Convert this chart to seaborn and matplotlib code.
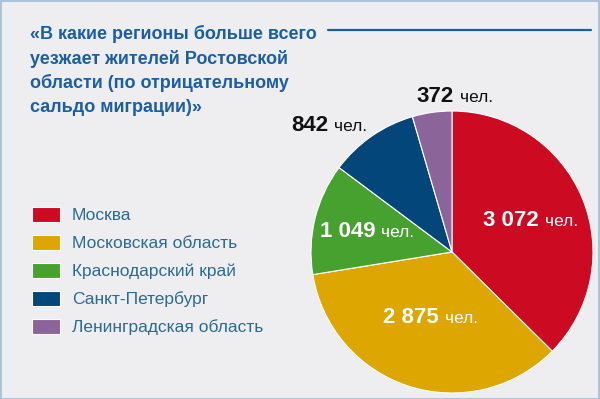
import matplotlib
matplotlib.use("Agg")
import matplotlib.pyplot as plt
import seaborn as sns
from matplotlib.offsetbox import TextArea, HPacker, AnnotationBbox
from matplotlib.patches import Rectangle
from matplotlib.lines import Line2D
import numpy as np

regions = ["Москва", "Московская область", "Краснодарский край",
           "Санкт-Петербург", "Ленинградская область"]
values = [3072, 2875, 1049, 842, 372]
value_labels = ["3 072", "2 875", "1 049", "842", "372"]
unit = "чел."
title_lines = ["«В какие регионы больше всего",
               "уезжает жителей Ростовской",
               "области (по отрицательному",
               "сальдо миграции)»"]

colors = ["#cc0a22", "#dda600", "#46a12f", "#03467a", "#8b6499"]
label_colors = ["white", "white", "white", "#111111", "#111111"]
# label placement (angle in degrees, distance in radii) - layout only
label_pos = [(21.5, 0.60), (-108.0, 0.49), (166.5, 0.62), (134.0, 1.25), (89.0, 1.10)]

sns.set_theme(style="white")
bg = "#eeeef0"
plt.rcParams['font.family'] = ['Liberation Sans', 'DejaVu Sans']

fig = plt.figure(figsize=(6, 3.99), dpi=100, facecolor=bg)
W, H = 600, 399

# pie axes: center (452,252), r=141
cx, cy, r = 452, 252, 141
ax = fig.add_axes([(cx - r) / W, (H - cy - r) / H, 2 * r / W, 2 * r / H])
ax.set_facecolor(bg)
wedges, _ = ax.pie(values, colors=colors, startangle=90, counterclock=False,
                   wedgeprops=dict(edgecolor="white", linewidth=0.8))
ax.set_xlim(-1, 1)
ax.set_ylim(-1, 1)
ax.set_aspect("equal")
ax.axis("off")

for lab, col, (ang, dist) in zip(value_labels, label_colors, label_pos):
    t1 = TextArea(lab, textprops=dict(color=col, fontsize=16, fontweight="bold"))
    t2 = TextArea(unit, textprops=dict(color=col, fontsize=12.5))
    box = HPacker(children=[t1, t2], align="baseline", pad=0, sep=4)
    a = np.deg2rad(ang)
    ab = AnnotationBbox(box, (dist * np.cos(a), dist * np.sin(a)), frameon=False,
                        box_alignment=(0.5, 0.5), annotation_clip=False)
    ax.add_artist(ab)

# title
for i, line in enumerate(title_lines):
    fig.text(30 / W, 1 - (34 + i * 24.5) / H, line, color="#1a5ea8", fontsize=13,
             fontweight="bold", va="center", ha="left")

# top right rule
fig.add_artist(Line2D([328 / W, 591 / W], [1 - 30 / H, 1 - 30 / H], color="#1a5ea8",
                      linewidth=1.6))

# legend
leg = fig.legend(wedges, regions, loc="upper left", bbox_to_anchor=(32 / W, 1 - 207 / H),
                 frameon=False, fontsize=12.5, handlelength=1.6, handleheight=0.95,
                 labelspacing=0.66, handletextpad=0.7, borderaxespad=0, borderpad=0)
for t in leg.get_texts():
    t.set_color("#2b6a94")

# frame
fig.add_artist(Rectangle((0.5 / W, 0.5 / H), (W - 2) / W, (H - 1.5) / H, transform=fig.transFigure,
                         fill=False, edgecolor="#9dbcd8", linewidth=1.2))

fig.savefig("out.png", dpi=100, facecolor=bg)
